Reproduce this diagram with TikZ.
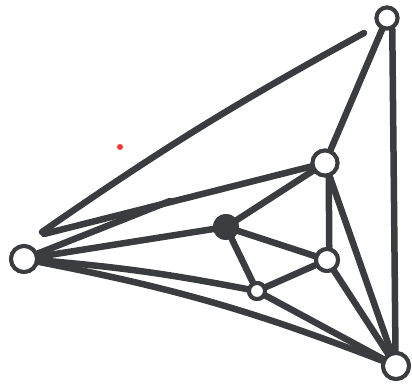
\documentclass[tikz,border=0pt]{standalone}
\begin{document}
\begin{tikzpicture}[x=1pt,y=-1pt]
\definecolor{ink}{HTML}{3A3C3F}
\tikzset{
  vert/.style={circle,draw=ink,line width=4pt,fill=white,inner sep=0pt,minimum size=#1},
  vfill/.style={circle,draw=ink,line width=4pt,fill=ink,inner sep=0pt,minimum size=#1},
  edge/.style={draw=ink,line width=6.5pt,line cap=round,line join=round},
}
\useasboundingbox (0,0) rectangle (412,385);
\fill[white] (0,0) rectangle (412,385);
\fill[red!80!white] (120,147) circle (3pt);
% vertices (placed first to define anchors)
\node[vert=21pt] (A) at (387,18) {};
\node[vert=26pt] (B) at (24,259) {};
\node[vert=26pt] (C) at (396,366) {};
\node[vert=25pt] (D) at (325,163) {};
\node[vfill=22pt] (E) at (226,227) {};
\node[vert=22pt] (F) at (327,260) {};
\node[vert=16pt] (G) at (257,291) {};
% free ends of strokes
\coordinate (abA) at (364,33);
\coordinate (abB) at (42,232);
\coordinate (bdB) at (44,234);
\coordinate (bd2) at (170,201);
% edges
\draw[edge] (abA) to[bend right=3] (abB);
\draw[edge] (A) -- (D);
\draw[edge] (A.-65) -- (C.92);
\draw[edge] (bdB) -- (D);
\draw[edge] (B) -- (bd2);
\draw[edge] (B) -- (E);
\draw[edge] (B) to[bend left=3] (G);
\draw[edge] (B) to[bend left=5] (C);
\draw[edge] (D) -- (E);
\draw[edge] (D.-75) -- (F.80);
\draw[edge] (D) -- (C);
\draw[edge] (E) -- (F);
\draw[edge] (E) -- (G);
\draw[edge] (F) -- (G);
\draw[edge] (F) -- (C);
\draw[edge] (G) -- (C);
% redraw vertices on top of the edges
\node[vert=21pt] at (A) {};
\node[vert=26pt] at (B) {};
\node[vert=26pt] at (C) {};
\node[vert=25pt] at (D) {};
\node[vfill=22pt] at (E) {};
\node[vert=22pt] at (F) {};
\node[vert=16pt] at (G) {};
\end{tikzpicture}
\end{document}
